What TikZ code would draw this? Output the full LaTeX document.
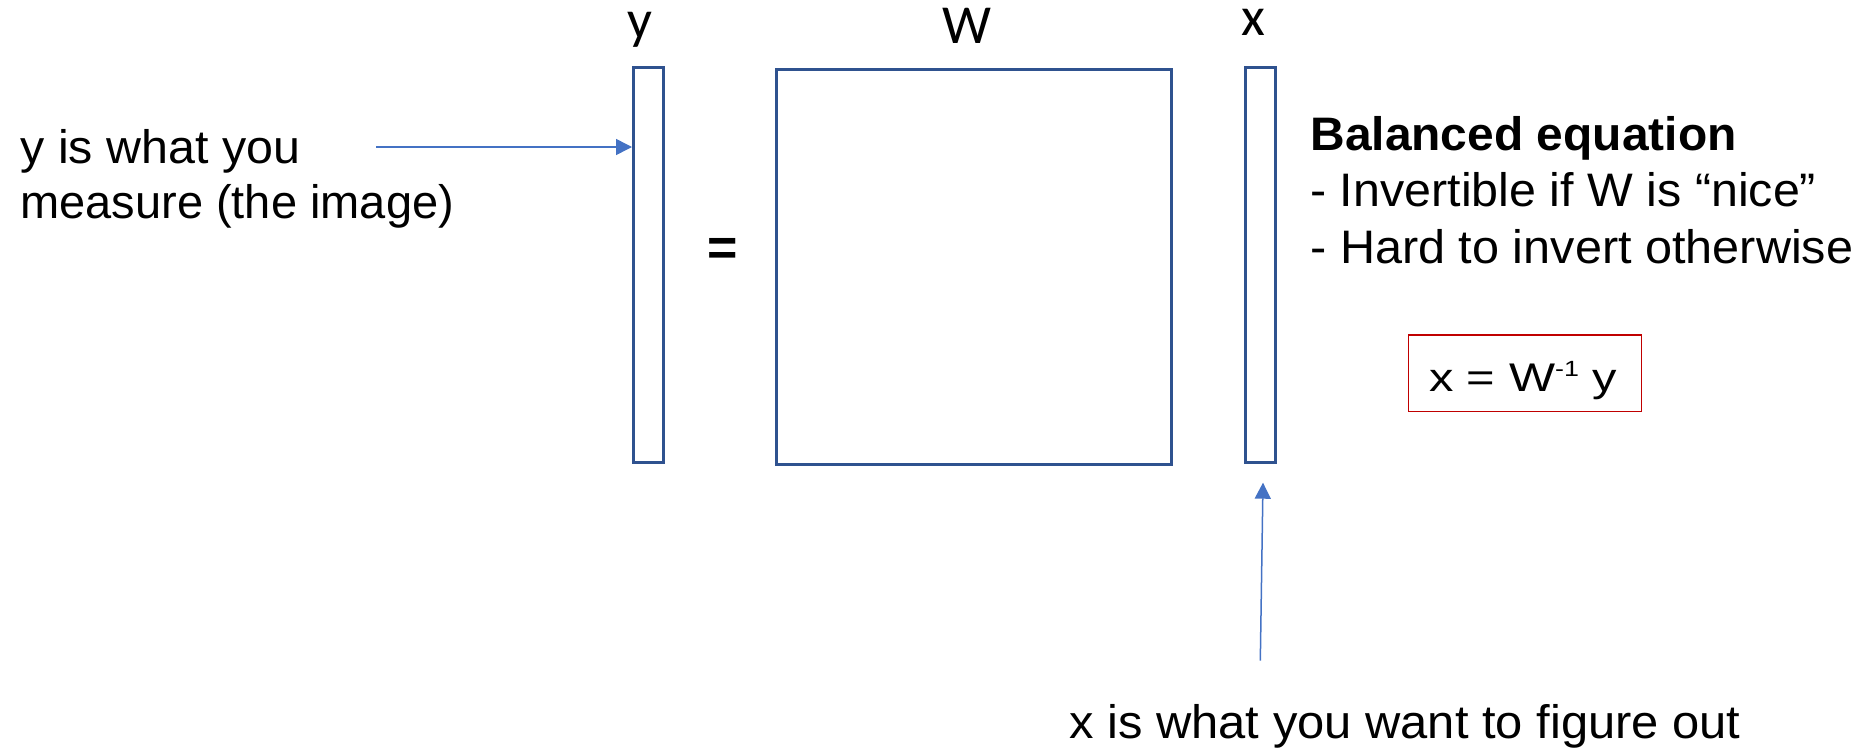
\documentclass[tikz,border=0pt]{standalone}
\usepackage{fontspec}
\setmainfont{Liberation Sans}
\newfontfamily\calib{Carlito}
\usetikzlibrary{arrows.meta}
\definecolor{boxblue}{HTML}{2F528F}
\definecolor{arrblue}{HTML}{4472C4}
\definecolor{eqred}{HTML}{C00000}
\newcommand{\wider}[2]{\scalebox{#1}[1]{#2}}
\begin{document}
\begin{tikzpicture}[x=0.5pt,y=-0.5pt,
  vec/.style={draw=boxblue, line width=1.5pt, inner sep=0pt, minimum width=15pt, minimum height=197.5pt},
  mat/.style={draw=boxblue, line width=1.5pt, inner sep=0pt, minimum width=197.5pt, minimum height=197.5pt},
  txt/.style={inner sep=0pt, anchor=base west, font=\fontsize{23.5pt}{28pt}\selectfont},
  lbl/.style={inner sep=0pt, anchor=base, font=\calib\fontsize{27.5pt}{32pt}\selectfont},
  pointer/.style={draw=arrblue, line width=0.75pt, -{Triangle[length=8pt,width=8pt]}}]
\useasboundingbox (0,0) rectangle (1874,750);
% vectors and matrix
\node[vec] (yv) at (648.5,264.5) {};
\node[mat] (Wm) at (973.7,266.7) {};
\node[vec] (xv) at (1260.7,264.5) {};
\node[lbl] (ylab) at (640,38.5) {y};
\node[lbl] (Wlab) at (967,43) {W};
\node[lbl] (xlab) at (1253,35) {x};
\node[inner sep=0pt, font=\bfseries\fontsize{26pt}{30pt}\selectfont] (eq) at (723,252) {=};
% left annotation
\node[txt] (m1) at (20,163.3) {\wider{1.03}{y is what you}};
\node[txt] (m2) at (20,218.3) {\wider{1.0}{measure (the image)}};
\coordinate (a1s) at (376,147);
\draw[pointer] (a1s) -- (a1s -| yv.west);
% right text
\node[txt, font=\bfseries\fontsize{23.5pt}{28pt}\selectfont] (bt) at (1310,150) {\wider{1.02}{Balanced equation}};
\node[txt] (b1) at (1310,206.7) {\wider{1.03}{- Invertible if W is “nice”}};
\node[txt] (b2) at (1310,263.3) {\wider{1.034}{- Hard to invert otherwise}};
\node[draw=eqred, line width=0.7pt, minimum width=116.7pt, minimum height=38.3pt, inner sep=0pt] (eqbox) at (1525,373.3) {};
\node[inner sep=0pt, anchor=base] (eqt) at (1523,391.7) {\wider{1.22}{\fontsize{20pt}{24pt}\selectfont x = W\raisebox{7.5pt}{\fontsize{11pt}{13pt}\selectfont -1} y}};
% bottom annotation
\coordinate (a2s) at (1260.3,660.7);
\coordinate (a2e) at (1263,482.7);
\draw[pointer] (a2s) -- (a2e);
\node[txt] (bot) at (1069,738.3) {\wider{1.04}{x is what you want to figure out}};
\end{tikzpicture}
\end{document}
